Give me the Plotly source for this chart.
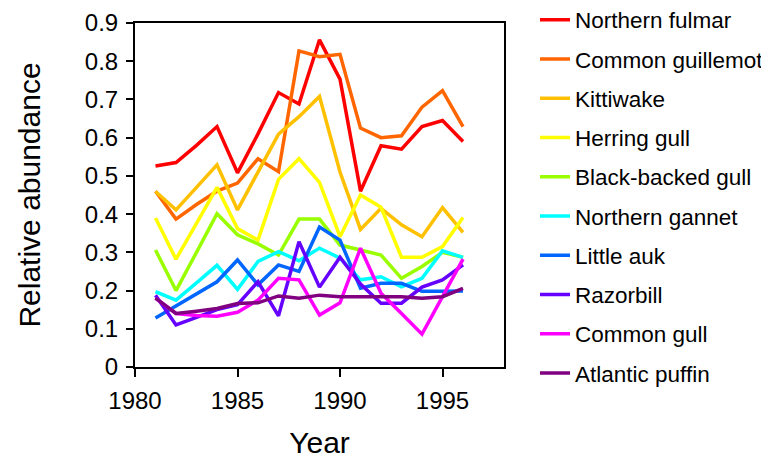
import plotly.graph_objects as go

years = list(range(1981, 1997))

species = ['Northern fulmar', 'Common guillemot', 'Kittiwake', 'Herring gull',
           'Black-backed gull', 'Northern gannet', 'Little auk', 'Razorbill',
           'Common gull', 'Atlantic puffin']

colors = ['#FF0000', '#FF6600', '#FFC000', '#FFFF00', '#99FF00',
          '#00FFFF', '#0066FF', '#6600FF', '#FF00FF', '#800080']

northern_fulmar = [0.526, 0.535, 0.58, 0.629, 0.508, 0.61, 0.718, 0.688,
                   0.856, 0.753, 0.46, 0.579, 0.570, 0.629, 0.645, 0.590]
common_guillemot = [0.46, 0.387, 0.425, 0.46, 0.481, 0.545, 0.511, 0.827,
                    0.812, 0.818, 0.625, 0.600, 0.605, 0.680, 0.723, 0.629]
kittiwake = [0.459, 0.411, 0.47, 0.529, 0.411, 0.51, 0.609, 0.655,
             0.708, 0.51, 0.36, 0.415, 0.372, 0.341, 0.417, 0.352]
herring_gull = [0.39, 0.282, 0.376, 0.47, 0.362, 0.332, 0.491, 0.545,
                0.483, 0.341, 0.450, 0.418, 0.287, 0.287, 0.315, 0.391]
black_backed_gull = [0.306, 0.20, 0.30, 0.401, 0.346, 0.322, 0.293, 0.387,
                     0.387, 0.319, 0.306, 0.293, 0.232, 0.263, 0.30, 0.287]
northern_gannet = [0.197, 0.175, 0.22, 0.266, 0.203, 0.276, 0.302, 0.278,
                   0.311, 0.285, 0.228, 0.236, 0.21, 0.232, 0.304, 0.287]
little_auk = [0.128, 0.16, 0.192, 0.223, 0.28, 0.215, 0.267, 0.25,
              0.366, 0.332, 0.206, 0.219, 0.219, 0.198, 0.198, 0.199]
razorbill = [0.188, 0.11, 0.13, 0.15, 0.163, 0.223, 0.134, 0.328,
             0.209, 0.287, 0.217, 0.167, 0.167, 0.209, 0.228, 0.267]
common_gull = [0.18, 0.14, 0.135, 0.133, 0.143, 0.175, 0.232, 0.228,
               0.136, 0.168, 0.311, 0.193, 0.14, 0.086, 0.184, 0.282]
atlantic_puffin = [0.18, 0.14, 0.146, 0.153, 0.166, 0.168, 0.186, 0.18,
                   0.188, 0.184, 0.184, 0.184, 0.184, 0.18, 0.184, 0.206]

series = [northern_fulmar, common_guillemot, kittiwake, herring_gull,
          black_backed_gull, northern_gannet, little_auk, razorbill,
          common_gull, atlantic_puffin]

font = 'Liberation Sans, Arial, sans-serif'

fig = go.Figure()
for name, col, vals in zip(species, colors, series):
    fig.add_trace(go.Scatter(x=years, y=vals, mode='lines', name=name,
                             legendgroup=name,
                             line=dict(color=col, width=3.5)))

# page body has an 8px margin, so the figure is shrunk by that amount
W, H = 761, 451
fig.update_layout(
    width=W, height=H,
    margin=dict(l=127, r=265, t=15, b=92),
    plot_bgcolor='white', paper_bgcolor='white',
    font=dict(family=font, color='black', size=24),
    legend=dict(x=527 / W, y=0.143, xanchor='left', yanchor='bottom',
                xref='container', yref='container',
                font=dict(size=22.5), tracegroupgap=7.0, maxheight=H,
                bgcolor='rgba(0,0,0,0)'),
    xaxis=dict(range=[1980, 1998], tickvals=[1980, 1985, 1990, 1995],
               showline=True, linecolor='black', linewidth=2, mirror=True,
               ticks='outside', ticklen=8, tickwidth=2, tickcolor='black',
               ticklabelstandoff=3, automargin=False,
               showgrid=False, zeroline=False,
               title=dict(text='Year', font=dict(size=30), standoff=19)),
    yaxis=dict(range=[0, 0.9], dtick=0.1,
               showline=True, linecolor='black', linewidth=2, mirror=True,
               ticks='outside', ticklen=7, tickwidth=2, tickcolor='black',
               ticklabelstandoff=3, automargin=False,
               showgrid=False, zeroline=False,
               title=dict(text='Relative abundance', font=dict(size=30),
                          standoff=35)),
)

fig.write_html('out.html')
